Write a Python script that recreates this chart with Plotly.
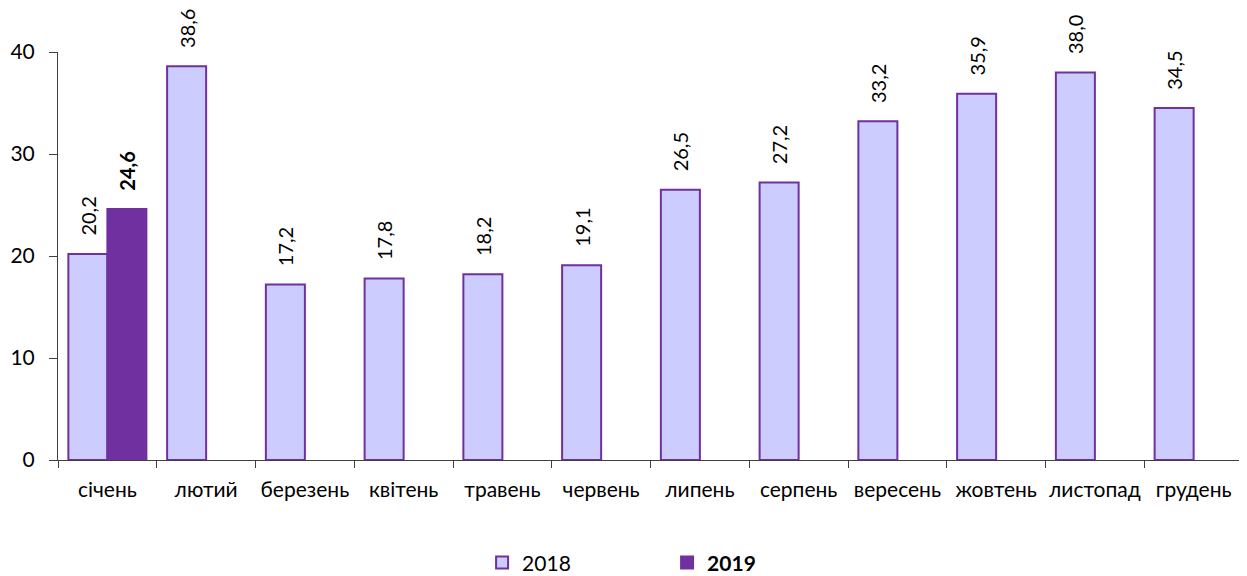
import plotly.graph_objects as go

months = ["січень", "лютий", "березень", "квітень", "травень", "червень",
          "липень", "серпень", "вересень", "жовтень", "листопад", "грудень"]
values_2018 = [20.2, 38.6, 17.2, 17.8, 18.2, 19.1, 26.5, 27.2, 33.2, 35.9, 38.0, 34.5]
values_2019 = [24.6, None, None, None, None, None, None, None, None, None, None, None]
y_ticks = [0, 10, 20, 30, 40]

PAD = "\u00a0\u00a0\u00a0"

def fmt(v):
    return "" if v is None else f"{v:.1f}".replace(".", ",")

FONT = "Lato"
AX = "#404040"

fig = go.Figure()
fig.add_trace(go.Bar(
    x=months, y=values_2018, name="2018",
    marker=dict(color="#CCCCFF", line=dict(color="#7030A0", width=2)),
    text=[PAD + fmt(v) for v in values_2018], textposition="outside", textangle=-90,
    textfont=dict(family=FONT, size=20, color="black"), cliponaxis=False,
    constraintext="none",
))
fig.add_trace(go.Bar(
    x=months, y=values_2019, name="<b>2019</b>",
    marker=dict(color="#7030A0", line=dict(color="#7030A0", width=2)),
    text=[PAD + "<b>" + fmt(v) + "</b>" if v is not None else "" for v in values_2019],
    textposition="outside", textangle=-90,
    textfont=dict(family=FONT, size=20, color="black"), cliponaxis=False,
    constraintext="none",
))

fig.update_layout(
    width=1247, height=576,
    margin=dict(l=50, r=12, t=44, b=124, autoexpand=False),
    paper_bgcolor="white", plot_bgcolor="white",
    barmode="group", bargap=0.21, bargroupgap=0,
    font=dict(family=FONT, size=21, color="black"),
    showlegend=True,
    legend=dict(orientation="h", x=0.514, xanchor="center", y=-0.252, yanchor="middle",
                entrywidth=140, itemwidth=30, font=dict(family=FONT, size=21)),
    xaxis=dict(tickson="boundaries", ticks="outside", ticklen=7, tickcolor=AX,
               showline=True, linecolor=AX, linewidth=1, tickfont=dict(size=21),
               tickangle=0, ticklabelstandoff=11, automargin=False),
    yaxis=dict(range=[0, 40], tickvals=y_ticks, ticks="outside", ticklen=8, tickcolor=AX,
               showline=True, linecolor=AX, linewidth=1, showgrid=False, zeroline=False,
               tickfont=dict(size=21), ticklabelstandoff=10, automargin=False),
)

fig.write_html("out.html")
